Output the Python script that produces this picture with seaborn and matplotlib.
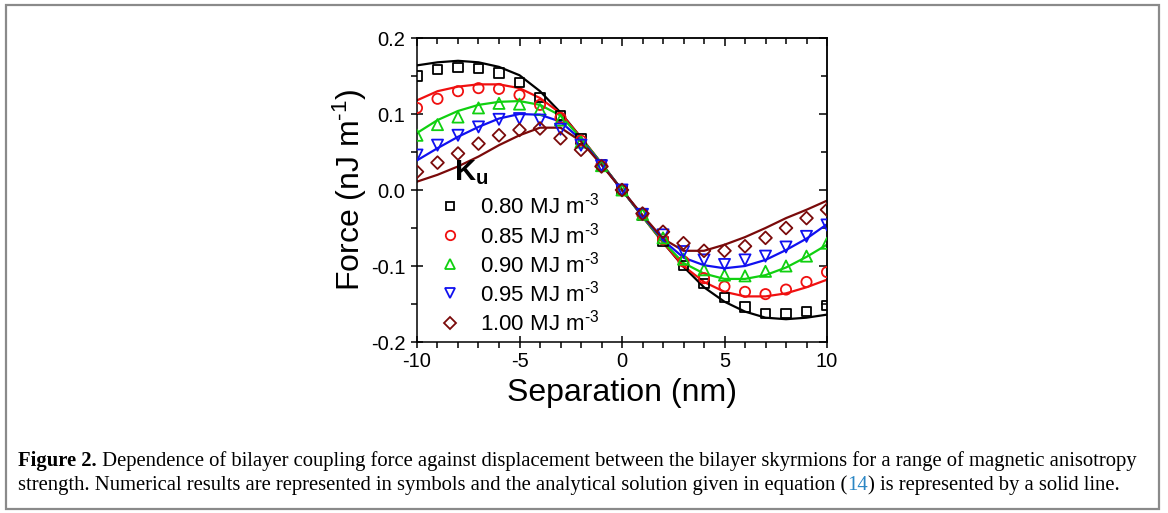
import matplotlib
matplotlib.use("Agg")
import matplotlib.pyplot as plt
from matplotlib.lines import Line2D
from matplotlib.patches import Rectangle
from matplotlib.ticker import MultipleLocator, FormatStrFormatter
import pandas as pd
import seaborn as sns

# ---- data -------------------------------------------------------------
separation = list(range(-10, 11))  # nm

ku_values = ["0.80", "0.85", "0.90", "0.95", "1.00"]  # MJ m^-3

# numerical results (symbols), nJ m^-1
sim_080 = [0.150, 0.159, 0.161, 0.160, 0.154, 0.141, 0.122, 0.098, 0.067, 0.033, 0.000,
           -0.033, -0.068, -0.099, -0.123, -0.141, -0.154, -0.162, -0.163, -0.160, -0.152]
sim_085 = [0.108, 0.120, 0.130, 0.134, 0.133, 0.125, 0.112, 0.095, 0.065, 0.033, 0.000,
           -0.033, -0.065, -0.094, -0.116, -0.127, -0.134, -0.137, -0.131, -0.121, -0.108]
sim_090 = [0.072, 0.086, 0.096, 0.108, 0.114, 0.113, 0.106, 0.092, 0.063, 0.032, 0.000,
           -0.032, -0.063, -0.091, -0.105, -0.112, -0.113, -0.107, -0.100, -0.087, -0.070]
sim_095 = [0.046, 0.059, 0.072, 0.083, 0.093, 0.094, 0.092, 0.080, 0.059, 0.032, 0.000,
           -0.032, -0.059, -0.081, -0.092, -0.098, -0.092, -0.087, -0.075, -0.061, -0.046]
sim_100 = [0.024, 0.036, 0.048, 0.061, 0.072, 0.079, 0.081, 0.068, 0.053, 0.031, 0.000,
           -0.031, -0.055, -0.070, -0.080, -0.080, -0.074, -0.063, -0.050, -0.037, -0.026]

# analytical solution, equation (14), nJ m^-1
eq_080 = [0.164, 0.168, 0.170, 0.168, 0.162, 0.151, 0.130, 0.102, 0.069, 0.035, 0.000,
          -0.035, -0.069, -0.101, -0.128, -0.147, -0.160, -0.168, -0.170, -0.168, -0.164]
eq_085 = [0.118, 0.130, 0.136, 0.139, 0.139, 0.134, 0.121, 0.101, 0.069, 0.035, 0.000,
          -0.035, -0.069, -0.100, -0.121, -0.134, -0.140, -0.140, -0.136, -0.128, -0.118]
eq_090 = [0.075, 0.092, 0.104, 0.112, 0.116, 0.117, 0.112, 0.098, 0.068, 0.035, 0.000,
          -0.035, -0.068, -0.096, -0.110, -0.117, -0.117, -0.112, -0.102, -0.088, -0.072]
eq_095 = [0.039, 0.055, 0.070, 0.083, 0.094, 0.100, 0.099, 0.090, 0.066, 0.034, 0.000,
          -0.034, -0.066, -0.089, -0.099, -0.103, -0.100, -0.092, -0.079, -0.064, -0.045]
eq_100 = [0.011, 0.020, 0.031, 0.044, 0.059, 0.072, 0.082, 0.082, 0.064, 0.033, 0.000,
          -0.033, -0.064, -0.080, -0.080, -0.072, -0.062, -0.050, -0.037, -0.026, -0.014]

colors = ["#000000", "#f01010", "#10d010", "#1010f0", "#7a0a0a"]
markers = ["s", "o", "^", "v", "D"]
marker_sizes = [44, 54, 64, 64, 42]

sim_series = [sim_080, sim_085, sim_090, sim_095, sim_100]
eq_series = [eq_080, eq_085, eq_090, eq_095, eq_100]

sim_df = pd.concat(
    [pd.DataFrame({"sep": separation, "force": vals, "ku": k})
     for k, vals in zip(ku_values, sim_series)], ignore_index=True)
eq_df = pd.concat(
    [pd.DataFrame({"sep": separation, "force": vals, "ku": k})
     for k, vals in zip(ku_values, eq_series)], ignore_index=True)

palette = dict(zip(ku_values, colors))

# ---- style ------------------------------------------------------------
sns.set_theme(style="ticks")
plt.rcParams["font.family"] = ["Liberation Sans", "DejaVu Sans"]
plt.rcParams["axes.unicode_minus"] = False
plt.rcParams["mathtext.fontset"] = "custom"
plt.rcParams["mathtext.rm"] = "Liberation Sans"
plt.rcParams["mathtext.it"] = "Liberation Sans"
plt.rcParams["mathtext.bf"] = "Liberation Sans:bold"
plt.rcParams["mathtext.default"] = "regular"
plt.rcParams["text.color"] = "black"
plt.rcParams["axes.labelcolor"] = "black"
plt.rcParams["xtick.color"] = "black"
plt.rcParams["ytick.color"] = "black"

W, H = 1168, 513
fig = plt.figure(figsize=(W / 100, H / 100), dpi=100)
fig.patch.set_facecolor("white")
ax = fig.add_axes([417 / W, 1 - 342 / H, 410 / W, 304 / H])

# analytical curves
sns.lineplot(data=eq_df, x="sep", y="force", hue="ku", palette=palette,
             estimator=None, errorbar=None, legend=False, linewidth=1.6, ax=ax)

# numerical points, open symbols
for k, c, m, s in zip(ku_values, colors, markers, marker_sizes):
    sns.scatterplot(data=sim_df[sim_df["ku"] == k], x="sep", y="force",
                    marker=m, s=s, color=c, legend=False, ax=ax, zorder=3)
    coll = ax.collections[-1]
    coll.set_facecolor("none")
    coll.set_edgecolor(c)
    coll.set_linewidth(1.3)

ax.set_xlim(-10, 10)
ax.set_ylim(-0.2, 0.2)
ax.set_xticks([-10, -5, 0, 5, 10])
ax.set_yticks([-0.2, -0.1, 0.0, 0.1, 0.2])
ax.xaxis.set_minor_locator(MultipleLocator(1))
ax.yaxis.set_minor_locator(MultipleLocator(0.05))
ax.yaxis.set_major_formatter(FormatStrFormatter("%.1f"))
ax.xaxis.set_major_formatter(FormatStrFormatter("%d"))

for sp in ax.spines.values():
    sp.set_visible(True)
    sp.set_linewidth(1.1)
    sp.set_color("black")

ax.tick_params(which="major", direction="inout", length=9, width=1.1,
               labelsize=14.5, pad=4, colors="black")
ax.tick_params(which="minor", direction="out", length=4, width=1.1)
ax.tick_params(axis="x", which="major", pad=3)

# mirrored ticks on top and right, pointing inward
top = ax.secondary_xaxis("top")
top.set_xticks([-10, -5, 0, 5, 10])
top.xaxis.set_minor_locator(MultipleLocator(1))
top.tick_params(which="major", direction="in", length=6, width=1.1, labeltop=False)
top.tick_params(which="minor", direction="in", length=4, width=1.1)
top.spines["top"].set_linewidth(1.1)
right = ax.secondary_yaxis("right")
right.set_yticks([-0.2, -0.1, 0.0, 0.1, 0.2])
right.yaxis.set_minor_locator(MultipleLocator(0.05))
right.tick_params(which="major", direction="in", length=6, width=1.1, labelright=False)
right.tick_params(which="minor", direction="in", length=4, width=1.1)
right.spines["right"].set_linewidth(1.1)

ax.set_xlabel("Separation (nm)", fontsize=23, labelpad=5)
ax.set_ylabel("Force (nJ m$^{\\text{-1}}$)", fontsize=23, labelpad=1)

# legend
handles = [Line2D([], [], linestyle="none", marker=m, markersize=ms ** 0.5 * 0.92,
                  markerfacecolor="none", markeredgecolor=c, markeredgewidth=1.3)
           for c, m, ms in zip(colors, markers, marker_sizes)]
labels = [f"{k} MJ m$^{{\\text{{-3}}}}$" for k in ku_values]
ax.legend(handles, labels, loc="upper left",
          bbox_to_anchor=(439 / W, 1 - 193 / H), bbox_transform=fig.transFigure,
          frameon=False, fontsize=16, handlelength=1.0, handletextpad=0.85,
          labelspacing=0.145, borderpad=0, borderaxespad=0)
fig.text(454 / W, 1 - 180 / H, "$\\mathbf{K_u}$", fontsize=21,
         ha="left", va="baseline")

# caption
cap_font = ["Liberation Serif", "DejaVu Serif"]
cap_size = 14.9
x0 = 18 / W
t1 = fig.text(x0, 1 - 466 / H, "Figure 2.", fontsize=cap_size, family=cap_font,
              weight="bold", va="baseline", ha="left")
ax.annotate(" Dependence of bilayer coupling force against displacement between "
            "the bilayer skyrmions for a range of magnetic anisotropy",
            xy=(1, 0), xycoords=t1, va="bottom", ha="left",
            fontsize=cap_size, family=cap_font, annotation_clip=False)
s1 = fig.text(x0, 1 - 490 / H,
              "strength. Numerical results are represented in symbols and the "
              "analytical solution given in equation (",
              fontsize=cap_size, family=cap_font, va="baseline", ha="left")
s2 = ax.annotate("14", xy=(1, 0), xycoords=s1, va="bottom", ha="left",
                 fontsize=cap_size, family=cap_font, color="#2a86c4",
                 annotation_clip=False)
ax.annotate(") is represented by a solid line.", xy=(1, 0), xycoords=s2,
            va="bottom", ha="left", fontsize=cap_size, family=cap_font,
            annotation_clip=False)

# outer frame
fig.patches.append(Rectangle((6 / W, 4 / H), 1153 / W, 504 / H,
                             transform=fig.transFigure, fill=False,
                             edgecolor="#8a8a8a", linewidth=1.6))

fig.savefig("out.png", dpi=100, facecolor="white")
